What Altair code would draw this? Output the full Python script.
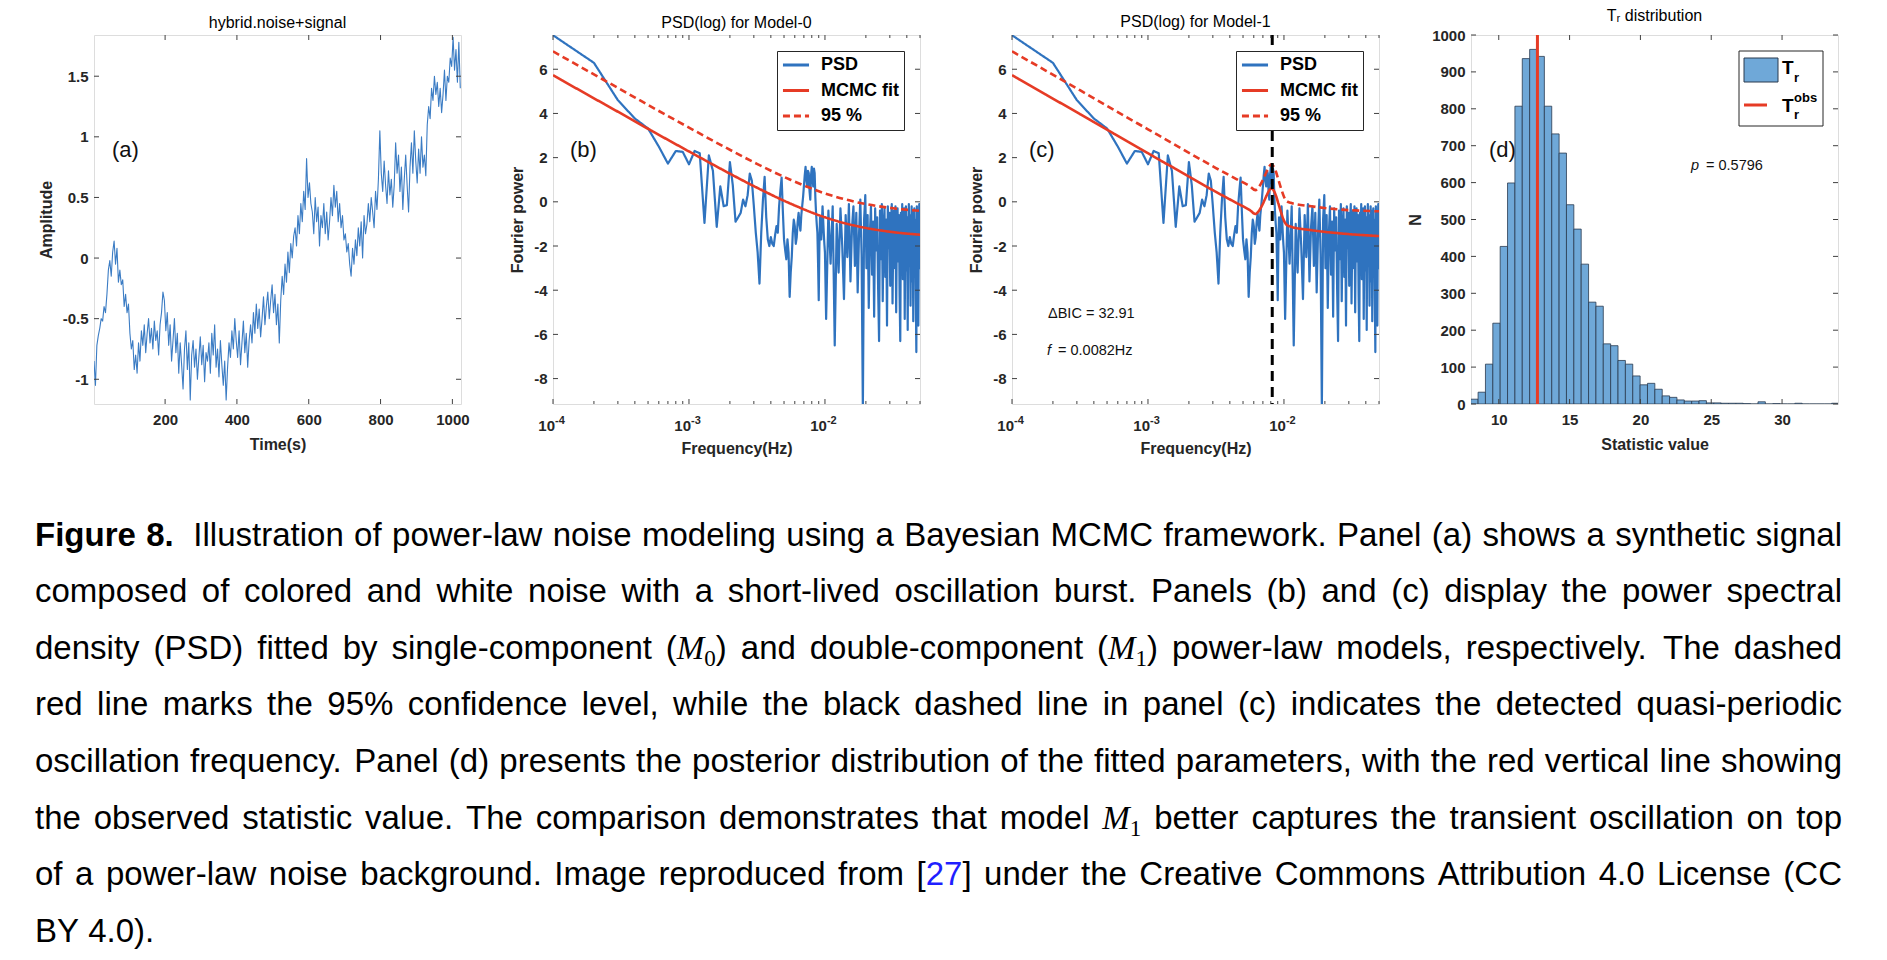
import re
import altair as alt
import pandas as pd

FONT = "Liberation Sans"
SERIF = "Liberation Serif"
INK = "#262626"
FRAME = "#404040"
BLUE = "#2f73bf"
BLUE_TS = "#3b7cc4"
RED = "#e63b25"
BAR = "#6fa8d8"
BAR_EDGE = "#2a3a4f"
W, H = 367, 369

# ---------------- panel (a): time series (read every 4 s) ----------------
time_s = list(range(2, 1024, 4))
amplitude = [
    -0.85, -1.05, -0.72, -0.64, -0.58, -0.50, -0.52, -0.40, -0.45, -0.30,
    -0.10, -0.02, -0.15, 0.05, 0.14, -0.05, 0.08, -0.20, -0.10, -0.22,
    -0.18, -0.40, -0.30, -0.45, -0.38, -0.62, -0.75, -0.68, -0.92, -0.80,
    -0.95, -0.70, -0.85, -0.60, -0.72, -0.55, -0.78, -0.62, -0.50, -0.70,
    -0.58, -0.75, -0.52, -0.68, -0.60, -0.80, -0.55, -0.45, -0.28, -0.35,
    -0.60, -0.45, -0.72, -0.55, -0.85, -0.68, -0.50, -0.78, -0.62, -0.95,
    -0.70, -0.88, -1.08, -0.75, -0.60, -0.92, -0.70, -1.17, -0.80, -0.68,
    -0.90, -0.75, -1.00, -0.82, -0.65, -0.88, -0.72, -1.02, -0.78, -0.85,
    -0.70, -0.95, -0.62, -0.80, -0.55, -0.90, -0.75, -0.98, -0.68, -0.88,
    -1.05, -0.85, -1.17, -0.90, -0.70, -0.82, -0.60, -0.75, -0.50, -0.68,
    -0.82, -0.60, -0.88, -0.70, -0.52, -0.78, -0.62, -0.90, -0.68, -0.55,
    -0.70, -0.45, -0.62, -0.38, -0.58, -0.42, -0.65, -0.50, -0.32, -0.55,
    -0.40, -0.28, -0.50, -0.35, -0.22, -0.45, -0.30, -0.55, -0.38, -0.70,
    -0.35, -0.15, -0.30, -0.05, -0.20, 0.05, -0.12, 0.12, 0.00, 0.18,
    0.25, 0.10, 0.35, 0.20, 0.45, 0.30, 0.55, 0.40, 0.82, 0.50,
    0.62, 0.45, 0.38, 0.20, 0.50, 0.30, 0.42, 0.10, 0.35, 0.25,
    0.45, 0.20, 0.38, 0.15, 0.30, 0.50, 0.35, 0.60, 0.42, 0.55,
    0.30, 0.45, 0.25, 0.35, 0.15, 0.20, 0.05, 0.12, -0.05, -0.15,
    0.08, -0.05, 0.15, 0.02, 0.25, 0.10, 0.30, 0.00, 0.35, 0.20,
    0.28, 0.45, 0.30, 0.50, 0.38, 0.25, 0.55, 0.40, 0.65, 1.05,
    0.70, 0.55, 0.80, 0.60, 0.45, 0.72, 0.52, 0.65, 0.42, 0.60,
    0.95, 0.70, 0.85, 0.55, 0.75, 0.40, 0.65, 0.85, 0.60, 0.38,
    0.75, 0.95, 0.70, 1.05, 0.80, 0.62, 0.90, 0.70, 1.00, 0.75,
    0.85, 0.68, 1.10, 1.25, 1.15, 1.40, 1.30, 1.50, 1.35, 1.45,
    1.25, 1.40, 1.20, 1.35, 1.55, 1.30, 1.50, 1.45, 1.65, 1.58,
    1.82, 1.55, 1.72, 1.45, 1.78, 1.40,
]

# ---------------- panels (b),(c): periodogram ----------------
psd_k = list(range(1, 101)) + list(range(102, 499, 4)) + [500]
psd_power = [
    7.54, 6.29, 4.6, 3.77, 3.32, 2.5, 1.73, 2.3, 2.26, 1.7,
    2.3, 2.2, -0.95, 2.1, 1.4, -1.13, 0.7, -0.2, -0.15, 1.8,
    0.75, -0.9, -0.7, -0.5, 0.1, -0.2, 0.3, 1.28, 0.95, -0.2,
    -1.4, -2.3, -3.7, -1.4, 0.1, 1.13, -0.7, -1.7, -2.0, -1.6,
    -1.9, -2.0, -1.5, -1.1, -1.4, -0.2, 0.5, 1.1, -0.4, -1.7,
    -2.2, -2.6, -1.7, -2.3, -4.3, -3.2, -2.5, -1.4, -0.8, -1.1,
    -1.9, -1.6, -0.9, -0.5, -1.0, -1.3, -0.6, -0.2, 0.2, 0.7,
    1.2, 1.58, 1.0, 0.7, 1.4, 1.3, 0.5, 0.1, 1.2, 1.58,
    1.1, 0.7, 1.5, 1.3, 0.2, -0.5, -1.0, -1.4, -2.8, -4.45,
    -2.0, -0.7, -1.2, -1.7, -0.9, -0.2, -0.8, -1.4, -1.9, -2.3,
    -5.3, -0.4, -2.8, -0.2, -6.5, -1.0, -3.2, -0.3, -2.0, -4.4,
    -0.6, -2.5, -0.1, -3.6, -1.2, -0.2, -2.9, -0.5, -4.1, -1.5,
    0.1, -2.4, -9.4, -0.8, 0.3, -3.0, -0.6, -4.8, -1.4, -0.2,
    -3.3, -0.9, -5.2, -0.3, -2.2, -0.7, -3.9, -6.3, -0.4, -2.6,
    -0.1, -4.5, -1.1, -0.3, -3.4, -0.8, -5.6, -0.2, -2.1, -0.5,
    -3.8, -0.9, -0.1, -4.6, -1.6, -0.4, -3.0, -0.2, -5.0, -1.2,
    -0.3, -2.7, -0.6, -4.2, -6.3, -0.5, -2.4, -0.1, -3.5, -1.0,
    -0.3, -5.3, -1.8, -0.2, -3.1, -0.7, -5.8, -1.3, -0.1, -2.9,
    -0.6, -4.7, -1.5, -0.2, -3.6, -0.4, -5.4, -1.0, -0.3, -2.5,
    -0.8, -4.4, -6.8, -0.2, -3.2, -0.5, -5.6, -1.1, -0.1, -3.0,
    -2.9,
]
psd_freq = [k * 1e-4 for k in psd_k]

fit_freq_b = [1e-4, 1.78e-4, 3.16e-4, 5.62e-4, 1e-3, 1.78e-3, 3.16e-3, 5.62e-3, 1e-2, 1.78e-2, 3.16e-2, 5e-2]
fit_b = [5.73, 4.86, 4.0, 3.13, 2.28, 1.44, 0.64, -0.09, -0.70, -1.12, -1.37, -1.49]
ci_b = [6.81, 5.94, 5.08, 4.21, 3.36, 2.52, 1.72, 0.99, 0.38, -0.04, -0.29, -0.41]

fit_freq_c = [1e-4, 1.78e-4, 3.16e-4, 5.62e-4, 1e-3, 1.78e-3, 3.16e-3, 4.47e-3, 5.62e-3, 6.17e-3,
              6.46e-3, 6.92e-3, 7.41e-3, 7.76e-3, 8.04e-3, 8.32e-3, 8.71e-3, 9.12e-3, 9.55e-3, 1e-2,
              1.05e-2, 1.12e-2, 1.58e-2, 2.51e-2, 5e-2]
fit_c = [5.73, 4.85, 3.97, 3.08, 2.2, 1.32, 0.45, -0.05, -0.38, -0.55,
         -0.45, -0.15, 0.25, 0.5, 0.6, 0.55, 0.3, -0.1, -0.5, -0.85,
         -1.05, -1.12, -1.28, -1.42, -1.55]
ci_c = [6.81, 5.93, 5.05, 4.16, 3.28, 2.4, 1.53, 1.03, 0.70, 0.53,
        0.63, 0.93, 1.33, 1.58, 1.70, 1.63, 1.38, 0.98, 0.58, 0.23,
        0.03, -0.04, -0.2, -0.34, -0.43]
qpo_freq = [0.0082]

# ---------------- panel (d): histogram ----------------
hist_counts = [13, 32, 108, 219, 427, 599, 807, 936, 961, 942,
               807, 732, 680, 540, 474, 379, 276, 265, 163, 158,
               118, 108, 76, 52, 56, 40, 22, 18, 11, 8,
               8, 9, 3, 3, 2, 2, 2, 1, 0, 6,
               0, 1, 0, 0, 2, 0, 0, 0, 0, 2]
hist_start = 8.02
hist_width = 0.52
t_obs = [12.73]

# ---------------- tick / label arrays ----------------
ticks_a_x = [200, 400, 600, 800, 1000]
ticks_a_y = [-1, -0.5, 0, 0.5, 1, 1.5]
ticks_f_major = [1e-4, 1e-3, 1e-2]
ticks_f_base = ["10", "10", "10"]
ticks_f_exp = ["-4", "-3", "-2"]
ticks_f_minor = [2e-4, 3e-4, 4e-4, 5e-4, 6e-4, 7e-4, 8e-4, 9e-4,
                 2e-3, 3e-3, 4e-3, 5e-3, 6e-3, 7e-3, 8e-3, 9e-3,
                 2e-2, 3e-2, 4e-2, 5e-2]
ticks_p_y = [-8, -6, -4, -2, 0, 2, 4, 6]
ticks_d_x = [10, 15, 20, 25, 30]
ticks_d_y = [0, 100, 200, 300, 400, 500, 600, 700, 800, 900, 1000]
SERIES = ["PSD", "MCMC fit", "95 %"]

caption_lines = [
    "*Figure *8.~ Illustration of power-law noise modeling using a Bayesian MCMC framework. Panel (a) shows a synthetic signal",
    "composed of colored and white noise with a short-lived oscillation burst. Panels (b) and (c) display the power spectral",
    "density (PSD) fitted by single-component ($M_0$) and double-component ($M_1$) power-law models, respectively. The dashed",
    "red line marks the 95% confidence level, while the black dashed line in panel (c) indicates the detected quasi-periodic",
    "oscillation frequency. Panel (d) presents the posterior distribution of the fitted parameters, with the red vertical line showing",
    "the observed statistic value. The comparison demonstrates that model $M_1$ better captures the transient oscillation on top",
    "of a power-law noise background. Image reproduced from [27] under the Creative Commons Attribution 4.0 License (CC",
    "BY 4.0).",
]

ONE = pd.DataFrame({"_": [0]})
LAB = 15


def x_axis(values, title, title_y, labels=True):
    return alt.Axis(values=values, title=title, titleX=W / 2, titleY=title_y, titleAlign="center",
                    titleBaseline="middle", titleAngle=0, ticks=False, tickSize=0, domain=False, grid=False,
                    labels=labels, labelPadding=8, labelFlush=False, labelOverlap=False, labelFont=FONT,
                    labelFontSize=LAB, labelFontWeight="bold", labelColor=INK,
                    labelExpr="toString(datum.value)", titleFont=FONT, titleFontSize=16,
                    titleFontWeight="bold", titleColor=INK)


def y_axis(values, title, title_x):
    return alt.Axis(values=values, title=title, titleX=title_x, titleY=H / 2, titleAlign="center",
                    titleBaseline="middle", titleAngle=270, ticks=False, tickSize=0, domain=False, grid=False,
                    labelPadding=6, labelFlush=False, labelOverlap=False, labelFont=FONT, labelFontSize=LAB,
                    labelFontWeight="bold", labelColor=INK, labelExpr="toString(datum.value)", titleFont=FONT,
                    titleFontSize=16, titleFontWeight="bold", titleColor=INK)


def inward(field, values, scale, axis, orient, length=5):
    df = pd.DataFrame({field: values})
    base = alt.Chart(df).mark_rule(color=FRAME, strokeWidth=1)
    if orient == "x":
        enc = alt.X(f"{field}:Q", scale=scale, axis=axis)
        return [base.encode(x=enc, y=alt.value(H), y2=alt.value(H - length)),
                base.encode(x=enc, y=alt.value(0), y2=alt.value(length))]
    enc = alt.Y(f"{field}:Q", scale=scale, axis=axis)
    return [base.encode(y=enc, x=alt.value(0), x2=alt.value(length)),
            base.encode(y=enc, x=alt.value(W), x2=alt.value(W - length))]


def note(txt, x, y, size=14.5, style="normal", weight="normal", baseline="middle", font=FONT, color="#111111"):
    return alt.Chart(ONE).mark_text(text=txt, align="left", baseline=baseline, fontSize=size, font=font,
                                    fontStyle=style, fontWeight=weight, color=color).encode(
        x=alt.value(x), y=alt.value(y))


def title(txt):
    return alt.TitleParams(txt, font=FONT, fontSize=16, fontWeight="normal", color="black", offset=4)


# ---------------- panel (a) ----------------
XS_A = alt.Scale(domain=[2, 1024], nice=False, zero=False)
YS_A = alt.Scale(domain=[-1.204, 1.84], nice=False, zero=False)
AX_AX = x_axis(ticks_a_x, "Time(s)", 40)
AX_AY = y_axis(ticks_a_y, "Amplitude", -48)
df_a = pd.DataFrame({"t": time_s, "amp": amplitude})
line_a = alt.Chart(df_a).mark_line(color=BLUE_TS, strokeWidth=1.1, clip=True, strokeJoin="round").encode(
    x=alt.X("t:Q", scale=XS_A, axis=AX_AX),
    y=alt.Y("amp:Q", scale=YS_A, axis=AX_AY))
panel_a = alt.layer(
    line_a, *inward("t", ticks_a_x, XS_A, AX_AX, "x"), *inward("amp", ticks_a_y, YS_A, AX_AY, "y"),
    note("(a)", 18, 115, size=22),
).properties(width=W, height=H, title=title("hybrid.noise+signal"))

# ---------------- panels (b),(c) ----------------
XS_F = alt.Scale(type="log", domain=[1e-4, 0.05], nice=False)
YS_P = alt.Scale(domain=[-9.15, 7.55], nice=False, zero=False)
AX_FX = x_axis(ticks_f_major, "Frequency(Hz)", 44, labels=False)
AX_PY = y_axis(ticks_p_y, "Fourier power", -36)
LEG = alt.Legend(title=None, orient="top-right", offset=16, fillColor="white", strokeColor=INK, padding=5,
                 rowPadding=7.5, labelFont=FONT, labelFontSize=18, labelFontWeight="bold", labelColor="black",
                 symbolType="M-2,0H2", symbolSize=170, symbolStrokeWidth=3, symbolOffset=5,
                 labelOffset=16)
COLOR = alt.Color("series:N", scale=alt.Scale(domain=SERIES, range=[BLUE, RED, RED]), legend=LEG)
DASH = alt.StrokeDash("series:N", scale=alt.Scale(domain=SERIES, range=[[1, 0], [1, 0], [7, 4]]), legend=LEG)
df_psd = pd.DataFrame({"f": psd_freq, "p": psd_power, "series": "PSD"})
df_flab = pd.DataFrame({"f": ticks_f_major, "base": ticks_f_base, "exp": ticks_f_exp})


def psd_panel(fit_f, fit_v, ci_v, label, extra, ttl):
    df_fit = pd.concat([
        pd.DataFrame({"f": fit_f, "p": fit_v, "series": "MCMC fit"}),
        pd.DataFrame({"f": fit_f, "p": ci_v, "series": "95 %"}),
    ])
    xenc = alt.X("f:Q", scale=XS_F, axis=AX_FX)
    yenc = alt.Y("p:Q", scale=YS_P, axis=AX_PY)
    psd = alt.Chart(df_psd).mark_line(strokeWidth=2.2, clip=True, strokeJoin="round").encode(
        x=xenc, y=yenc, color=COLOR, strokeDash=DASH)
    fit = alt.Chart(df_fit).mark_line(strokeWidth=2.6, clip=True, interpolate="monotone").encode(
        x=xenc, y=yenc, color=COLOR, strokeDash=DASH)
    lab_base = alt.Chart(df_flab).mark_text(align="right", baseline="alphabetic", dx=2, fontSize=LAB,
                                            fontWeight="bold", font=FONT, color=INK).encode(
        x=xenc, y=alt.value(H + 27), text="base:N")
    lab_exp = alt.Chart(df_flab).mark_text(align="left", baseline="alphabetic", dx=2, fontSize=11,
                                           fontWeight="bold", font=FONT, color=INK).encode(
        x=xenc, y=alt.value(H + 20), text="exp:N")
    return alt.layer(
        psd, fit, *extra,
        *inward("f", ticks_f_major, XS_F, AX_FX, "x"), *inward("f", ticks_f_minor, XS_F, AX_FX, "x", 3),
        *inward("p", ticks_p_y, YS_P, AX_PY, "y"),
        lab_base, lab_exp,
        note(label, 17, 115, size=22),
    ).properties(width=W, height=H, title=title(ttl))


panel_b = psd_panel(fit_freq_b, fit_b, ci_b, "(b)", [], "PSD(log) for Model-0")
qpo_rule = alt.Chart(pd.DataFrame({"f": qpo_freq})).mark_rule(
    color="black", strokeWidth=3, strokeDash=[10, 6]).encode(x=alt.X("f:Q", scale=XS_F, axis=AX_FX))
extra_c = [qpo_rule,
           note("\u0394BIC = 32.91", 36, 279),
           note("f", 35, 316, style="italic"),
           note("= 0.0082Hz", 46, 316)]
panel_c = psd_panel(fit_freq_c, fit_c, ci_c, "(c)", extra_c, "PSD(log) for Model-1")

# ---------------- panel (d) ----------------
XS_D = alt.Scale(domain=[8.04, 33.95], nice=False, zero=False)
YS_D = alt.Scale(domain=[0, 1000], nice=False)
AX_DX = x_axis(ticks_d_x, "Statistic value", 40)
AX_DY = y_axis(ticks_d_y, "N", -56)
df_h = pd.DataFrame({
    "lo": [hist_start + i * hist_width for i in range(len(hist_counts))],
    "hi": [hist_start + (i + 1) * hist_width for i in range(len(hist_counts))],
    "n": hist_counts,
    "base": [0] * len(hist_counts),
})
bars = alt.Chart(df_h).mark_rect(fill=BAR, stroke=BAR_EDGE, strokeWidth=0.8, clip=True).encode(
    x=alt.X("lo:Q", scale=XS_D, axis=AX_DX), x2="hi:Q",
    y=alt.Y("n:Q", scale=YS_D, axis=AX_DY), y2="base:Q")
obs_rule = alt.Chart(pd.DataFrame({"lo": t_obs})).mark_rule(color=RED, strokeWidth=3).encode(
    x=alt.X("lo:Q", scale=XS_D, axis=AX_DX))
leg_box = alt.Chart(ONE).mark_rect(fill="white", stroke=INK, strokeWidth=1).encode(
    x=alt.value(268), x2=alt.value(352), y=alt.value(16), y2=alt.value(91))
leg_patch = alt.Chart(ONE).mark_rect(fill=BAR, stroke=BAR_EDGE, strokeWidth=1).encode(
    x=alt.value(273), x2=alt.value(307), y=alt.value(23), y2=alt.value(47))
leg_line = alt.Chart(ONE).mark_rule(color=RED, strokeWidth=3).encode(
    x=alt.value(273), x2=alt.value(296), y=alt.value(70))
panel_d = alt.layer(
    bars, obs_rule,
    *inward("lo", ticks_d_x, XS_D, AX_DX, "x"), *inward("n", ticks_d_y, YS_D, AX_DY, "y"),
    note("(d)", 18, 115, size=22),
    note("p", 220, 131, style="italic"),
    note("= 0.5796", 235, 131),
    leg_box, leg_patch, leg_line,
    note("T", 311, 39, size=19, weight="bold", baseline="alphabetic", color="black"),
    note("r", 323, 47, size=13, weight="bold", baseline="alphabetic", color="black"),
    note("T", 311, 77, size=19, weight="bold", baseline="alphabetic", color="black"),
    note("obs", 323, 67, size=13, weight="bold", baseline="alphabetic", color="black"),
    note("r", 323, 84, size=13, weight="bold", baseline="alphabetic", color="black"),
).properties(width=W, height=H, title=title("T\u1d63 distribution"))

# ---------------- caption (justified with Helvetica/Arial metrics) ----------------
REG = {" ": 278, "(": 333, ")": 333, "[": 278, "]": 278, ",": 278, ".": 278, "-": 333, "%": 889}
REG.update({d: 556 for d in "0123456789"})
REG.update(dict(A=667, B=667, C=722, D=722, E=667, F=611, G=778, H=722, I=278, J=500, K=667, L=556, M=833,
                N=722, O=778, P=667, Q=778, R=722, S=667, T=611, U=722, V=667, W=944, X=667, Y=667, Z=611))
REG.update(dict(a=556, b=556, c=500, d=556, e=556, f=278, g=556, h=556, i=222, j=222, k=500, l=222, m=833,
                n=556, o=556, p=556, q=556, r=333, s=500, t=278, u=556, v=500, w=722, x=500, y=500, z=500))
BOLD = {"F": 611, "i": 278, "g": 611, "u": 611, "r": 389, "e": 556, "8": 556, ".": 278}
CS = 33.0


def seg_w(txt, style):
    if style == "bold":
        return sum(BOLD.get(c, 556) for c in txt) * CS / 1000
    if style == "mi":
        return 833 * CS / 1000
    if style == "sub":
        return 500 * CS * 0.7 / 1000
    return sum(REG.get(c, 556) for c in txt) * CS / 1000


def parse(word):
    extra = 0
    if word.endswith("~"):
        word, extra = word[:-1], 1
    if word.startswith("*"):
        return [(word[1:], "bold")], extra
    segs = []
    for part in re.split(r"(\$M_\d\$|\[27\])", word):
        if not part:
            continue
        if part.startswith("$M_"):
            segs += [("M", "mi"), (part[3], "sub")]
        elif part == "[27]":
            segs += [("[", "reg"), ("27", "link"), ("]", "reg")]
        else:
            segs.append((part, "reg"))
    return segs, extra


CAP_X0, CAP_RIGHT, CAP_Y0, CAP_DY = -59.0, 1748.0, 77.5, 56.6
space = 278 * CS / 1000
rows = []
for li, line in enumerate(caption_lines):
    words = [parse(w) for w in line.split(" ")]
    widths = [sum(seg_w(t, s) for t, s in segs) for segs, _ in words]
    extras = sum(e for _, e in words[:-1])
    gaps = len(words) - 1
    if li < len(caption_lines) - 1 and gaps > 0:
        stretch = (CAP_RIGHT - CAP_X0 - sum(widths) - (gaps + extras) * space) / gaps
    else:
        stretch = 0.0
    x = CAP_X0
    y = CAP_Y0 + li * CAP_DY
    for (segs, extra), wd in zip(words, widths):
        sx = x
        for t, s in segs:
            rows.append({"x": sx, "y": y + (7 if s == "sub" else 0), "text": t, "style": s})
            sx += seg_w(t, s)
        x += wd + space + stretch + extra * space
cap_df = pd.DataFrame(rows)


def cap_layer(style, **kw):
    return alt.Chart(cap_df[cap_df["style"] == style]).mark_text(align="left", baseline="alphabetic", **kw).encode(
        x=alt.X("x:Q", scale=None, axis=None), y=alt.Y("y:Q", scale=None, axis=None), text="text:N")


caption = alt.layer(
    cap_layer("reg", font=FONT, fontSize=CS, color="black"),
    cap_layer("bold", font=FONT, fontSize=CS, fontWeight="bold", color="black"),
    cap_layer("link", font=FONT, fontSize=CS, color="#1f1fff"),
    cap_layer("mi", font=SERIF, fontSize=CS, fontStyle="italic", color="black"),
    cap_layer("sub", font=SERIF, fontSize=CS * 0.7, color="black"),
).properties(width=1748, height=480, view=alt.ViewBackground(stroke="transparent"))

top = alt.hconcat(panel_a, panel_b, panel_c, panel_d, spacing=92, bounds="flush").resolve_scale(
    color="independent", strokeDash="independent")

chart = alt.vconcat(top, caption, spacing=10).properties(
    padding={"left": 34, "top": 7, "right": 5, "bottom": 2}
).configure_view(stroke=FRAME, strokeWidth=1.2).configure(font=FONT)

chart.save("out.html", embed_options={"renderer": "svg", "actions": False})
